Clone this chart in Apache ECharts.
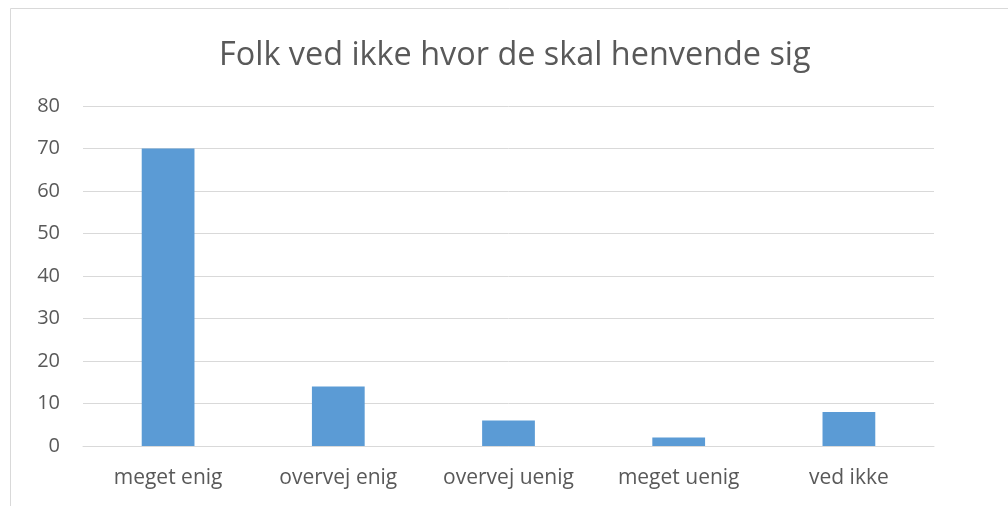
<!DOCTYPE html>
<html>
<head>
<meta charset="utf-8">
<script src="https://cdn.jsdelivr.net/npm/echarts@6/dist/echarts.min.js"></script>
<style>
  html, body { margin: 0; padding: 0; background: #fff; }
  #chart { width: 1008px; height: 506px; }
</style>
</head>
<body>
<div id="chart"></div>
<script>
const titleText = 'Folk ved ikke hvor de skal henvende sig'
const categories = ['meget enig', 'overvej enig', 'overvej uenig', 'meget uenig', 'ved ikke']
const values = [70, 14, 6, 2, 8]

const font = '"Open Sans", sans-serif'
const textColor = '#595959'

const chart = echarts.init(document.getElementById('chart'))

const option = {
  animation: false,
  graphic: [
    {
      type: 'rect',
      shape: { x: 10.5, y: 8.5, width: 1100, height: 600 },
      style: { fill: 'none', stroke: '#d9d9d9', lineWidth: 1 },
      silent: true,
    },
  ],
  title: {
    text: titleText,
    left: 219,
    top: 40,
    padding: 0,
    textStyle: {
      fontFamily: font,
      fontSize: 32.4,
      fontWeight: 'normal',
      color: textColor,
    },
  },
  grid: {
    left: 83,
    right: 74,
    top: 106,
    bottom: 60,
  },
  xAxis: {
    type: 'category',
    data: categories,
    axisLine: { lineStyle: { color: '#d9d9d9', width: 1 } },
    axisTick: { show: false },
    axisLabel: {
      margin: 22,
      fontFamily: font,
      fontSize: 21,
      color: textColor,
    },
  },
  yAxis: {
    type: 'value',
    min: 0,
    max: 80,
    interval: 10,
    axisLine: { show: false },
    axisTick: { show: false },
    splitLine: { lineStyle: { color: '#d9d9d9', width: 1 } },
    axisLabel: {
      margin: 23,
      fontFamily: font,
      fontSize: 20,
      color: textColor,
    },
  },
  series: [
    {
      type: 'bar',
      data: values,
      barWidth: '31%',
      itemStyle: { color: '#5b9bd5' },
    },
  ],
}

chart.setOption(option)
</script>
</body>
</html>
